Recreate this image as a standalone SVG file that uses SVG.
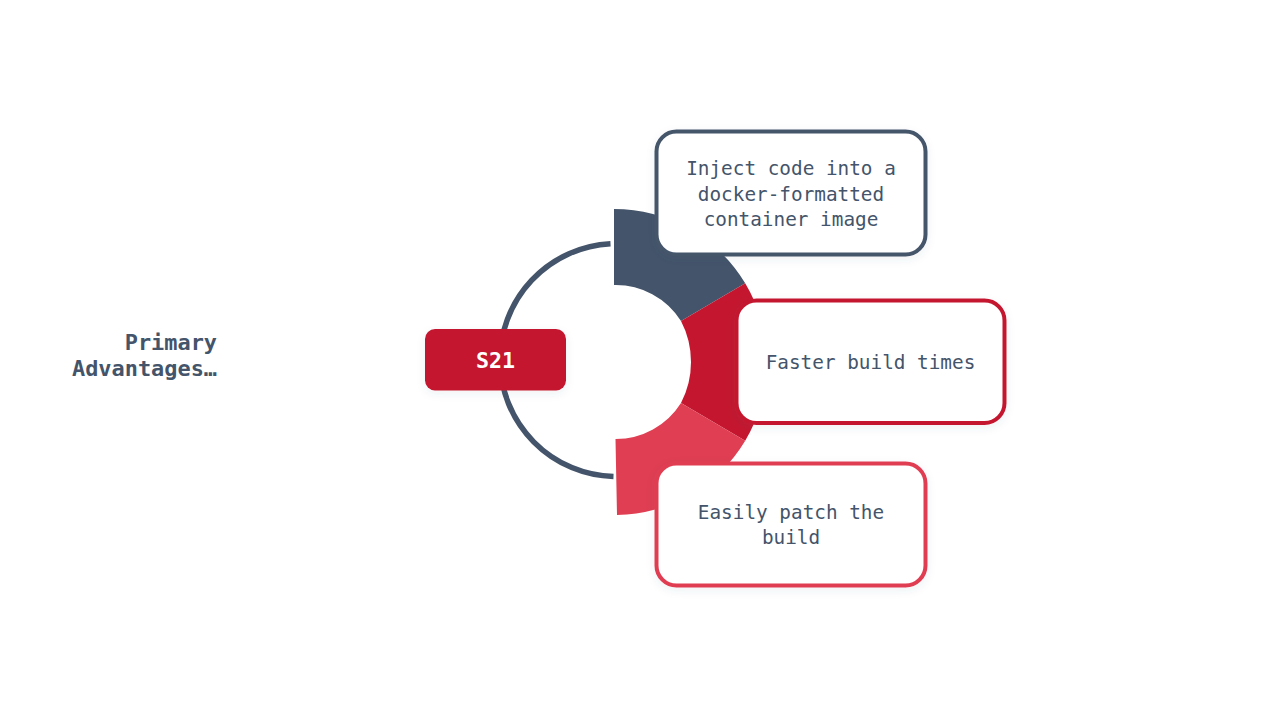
<svg xmlns="http://www.w3.org/2000/svg" width="1280" height="720" viewBox="0 0 1280 720">
<style>
.t{font-family:"DejaVu Sans Mono","Liberation Mono",monospace;font-size:19.35px;fill:#44546a;text-anchor:middle}
.h{font-family:"DejaVu Sans Mono","Liberation Mono",monospace;font-size:21.9px;font-weight:700;fill:#44546a;text-anchor:end}
.b{fill:#fff;stroke-width:4}
</style>
<defs>
<filter id="sh" x="-10%" y="-15%" width="120%" height="135%"><feDropShadow dx="0" dy="3" stdDeviation="4" flood-color="#44546a" flood-opacity="0.08"/></filter>
</defs>
<rect width="1280" height="720" fill="#fff"/>
<g id="connectors">
<path d="M610.500 243.700A116.500 116.500 0 0 0 613.500 476.500" fill="none" stroke="#44546a" stroke-width="5.500"/>
<path d="M614 209A153 153 0 0 1 745.200 283.300L681 321A77 77 0 0 0 614 285Z" fill="#44546a"/>
<path d="M745.200 283.300A153 153 0 0 1 745.200 440.700L681 403A89 89 0 0 0 681 321Z" fill="#c4172f"/>
<path d="M745.200 440.700A153 153 0 0 1 617 515L615.500 439A77 77 0 0 0 681 403Z" fill="#e03e52"/>
</g>
<g id="title"><text class="h" x="217" y="350">Primary</text>
<text class="h" x="217" y="376">Advantages…</text></g>
<g id="s21"><rect x="425" y="329" width="141" height="61.500" rx="10" fill="#c4172f" filter="url(#sh)"/>
<text x="495.500" y="367.500" text-anchor="middle" font-family="DejaVu Sans Mono,Liberation Mono,monospace" font-size="21.600" font-weight="700" fill="#fff">S21</text></g>
<g id="n1"><rect class="b" x="656.500" y="131.500" width="269" height="123" rx="20" stroke="#44546a" filter="url(#sh)"/>
<text class="t" x="791" y="175">Inject code into a</text><text class="t" x="791" y="200.500">docker-formatted</text><text class="t" x="791" y="226">container image</text></g>
<g id="n2"><rect class="b" x="736.500" y="300.500" width="268" height="122.500" rx="20" stroke="#c4172f" filter="url(#sh)"/>
<text class="t" x="870.500" y="368.500">Faster build times</text></g>
<g id="n3"><rect class="b" x="656.500" y="463.500" width="269" height="122" rx="20" stroke="#e03e52" filter="url(#sh)"/>
<text class="t" x="791" y="518.500">Easily patch the</text><text class="t" x="791" y="544">build</text></g>
</svg>
